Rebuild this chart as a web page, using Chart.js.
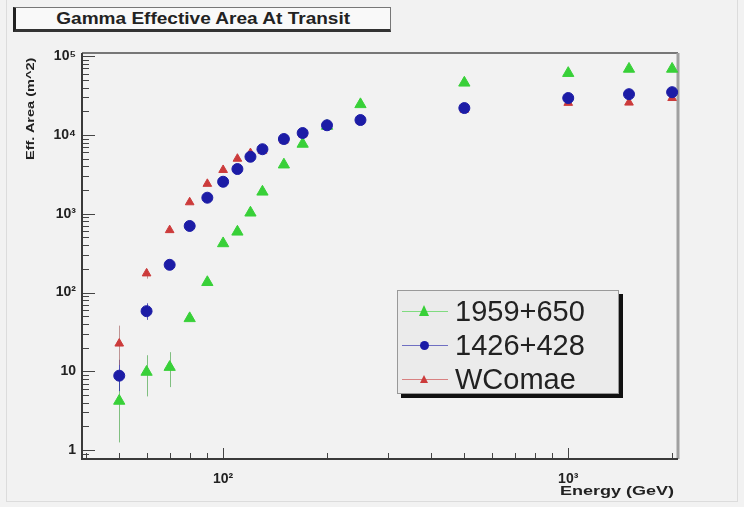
<!DOCTYPE html>
<html>
<head>
<meta charset="utf-8">
<script src="https://cdn.jsdelivr.net/npm/chart.js@4.4.1/dist/chart.umd.min.js"></script>
<style>
  html, body { margin: 0; padding: 0; background: #f2f2f2; }
  #wrap { position: relative; width: 744px; height: 507px; overflow: hidden; font-family: "Liberation Sans", Arial, sans-serif; }
  #pad { position: absolute; left: 6px; top: -2px; width: 732px; height: 504px; border: 1px solid #dcdcdc; box-sizing: border-box; }
  canvas { position: absolute; left: 0; top: 0; }
  #title { position: absolute; left: 13px; top: 7px; width: 378px; height: 25px; background: #f9f9f9;
           border: 1px solid #777; border-left: 3px solid #222; border-bottom: 3px solid #333; box-sizing: border-box;
           font-weight: bold; font-size: 17px; line-height: 21px; text-align: center; color: #222; }
  #title span { display: inline-block; transform: scaleX(1.12); }
  #legend { position: absolute; left: 397px; top: 290px; width: 222px; height: 104px; background: #ebebeb;
            border: 1px solid #999; box-shadow: 4px 4px 0 #111; box-sizing: border-box; }
  .row { position: absolute; left: 0; height: 36px; }
  .row .ln { position: absolute; left: 4px; top: 18px; width: 46px; height: 1px; }
  .row .mk { position: absolute; }
  .row .tx { position: absolute; left: 57px; top: 0; font-size: 29px; line-height: 36px; color: #222; white-space: nowrap; }
  #ytitle { position: absolute; left: 24px; top: 58px; font-weight: bold; font-size: 11px; color: #222; white-space: nowrap;
            transform-origin: 0 0; transform: translate(0, 102px) rotate(-90deg) scaleX(1.32); }
  #xtitle { position: absolute; left: 560px; top: 484px; font-weight: bold; font-size: 12px; color: #222; white-space: nowrap;
            transform-origin: 0 0; transform: scaleX(1.5); }
</style>
</head>
<body>
<div id="wrap">
  <div id="pad"></div>
  <canvas id="chart" width="744" height="507"></canvas>
  <div id="title"><span>Gamma Effective Area At Transit</span></div>
  <div id="legend"></div>
  <div id="ytitle">Eff. Area (m^2)</div>
  <div id="xtitle">Energy (GeV)</div>
</div>
<script>
// energie (GeV)
const energy = [50, 60, 70, 80, 90, 100, 110, 120, 130, 150, 170, 200, 250, 500, 1000, 1500, 2000];

const names = ['1959+650', '1426+428', 'WComae'];

// effective area (m^2) per source
const area1959 = [4.2, 9.8, 11.3, 47, 135, 420, 590, 1030, 1900, 4200, 7700, 13000, 24500, 46000, 61000, 69000, 69000];
const area1426 = [8.8, 58, 225, 700, 1600, 2550, 3700, 5300, 6600, 8900, 10600, 13300, 15500, 22000, 29500, 33000, 35000];
const areaWComae = [22.5, 175, 620, 1400, 2400, 3600, 5000, 5900, 6300, 8500, 10200, 12800, 15000, 21000, 25600, 25800, 29500];

// error bars [low, high], null = hidden under marker
const err1959 = [[1.25, 7.5], [4.8, 16], [6.3, 17.5], null, null, null, null, null, null, null, null, null, null, null, null, null, null];
const err1426 = [[5.6, 14], [45, 73], null, null, null, null, null, null, null, null, null, null, null, null, null, null, null];
const errWComae = [[12, 38], [150, 200], null, null, null, null, null, null, null, null, null, null, null, null, null, null, null];

const yTicksMajor = [1, 10, 100, 1000, 10000, 100000];
const xTicksMajor = [100, 1000];

const colGreen = '#38d038';
const colBlue = '#1c1ca6';
const colRed = '#cc3b3b';

function sup(n) {
    const s = {'0':'⁰','1':'¹','2':'²','3':'³','4':'⁴','5':'⁵','6':'⁶','7':'⁷','8':'⁸','9':'⁹'};
    return String(n).split('').map(c => s[c]).join('');
}

function logLabel(v) {
    const e = Math.round(Math.log10(v));
    if (Math.abs(Math.log10(v) - e) > 1e-6) return '';
    if (e === 0) return '1';
    if (e === 1) return '10';
    return '10' + sup(e);
}

function minorTicks(min, max) {
    const out = [];
    for (let e = Math.floor(Math.log10(min)); e <= Math.ceil(Math.log10(max)); e++) {
        for (let m = 1; m <= 9; m++) {
            const v = m * Math.pow(10, e);
            if (v >= min && v <= max) out.push(v);
        }
    }
    return out;
}

const errPlugin = {
    id: 'errbars',
    beforeDatasetsDraw(chart) {
        const ctx = chart.ctx;
        const xs = chart.scales.x, ys = chart.scales.y;
        const a = chart.chartArea;
        // ticks inside frame (ROOT style)
        ctx.save();
        ctx.strokeStyle = '#444';
        ctx.lineWidth = 1;
        minorTicks(ys.min, ys.max).forEach(v => {
            const y = Math.round(ys.getPixelForValue(v)) + 0.5;
            const big = yTicksMajor.includes(v);
            ctx.beginPath();
            ctx.moveTo(a.left, y);
            ctx.lineTo(a.left + (big ? 13 : 7), y);
            ctx.stroke();
        });
        minorTicks(xs.min, xs.max).forEach(v => {
            const x = Math.round(xs.getPixelForValue(v)) + 0.5;
            const big = xTicksMajor.includes(v);
            ctx.beginPath();
            ctx.moveTo(x, a.bottom);
            ctx.lineTo(x, a.bottom - (big ? 11 : 6));
            ctx.stroke();
        });
        // frame
        ctx.strokeStyle = '#777';
        ctx.lineWidth = 2;
        ctx.beginPath();
        ctx.moveTo(a.left, a.top);
        ctx.lineTo(a.right, a.top);
        ctx.stroke();
        ctx.strokeStyle = '#a0a0a0';
        ctx.lineWidth = 3;
        ctx.beginPath();
        ctx.moveTo(a.right, a.top);
        ctx.lineTo(a.right, a.bottom);
        ctx.stroke();
        ctx.strokeStyle = '#3a3a3a';
        ctx.lineWidth = 2;
        ctx.beginPath();
        ctx.moveTo(a.left, a.top);
        ctx.lineTo(a.left, a.bottom);
        ctx.lineTo(a.right, a.bottom);
        ctx.stroke();
        // error bars
        chart.data.datasets.forEach(ds => {
            ctx.strokeStyle = ds.errColor;
            ctx.lineWidth = 1;
            ds.errors.forEach((e, i) => {
                if (!e) return;
                const x = Math.round(xs.getPixelForValue(energy[i])) + 0.5;
                ctx.beginPath();
                ctx.moveTo(x, ys.getPixelForValue(e[0]));
                ctx.lineTo(x, ys.getPixelForValue(e[1]));
                ctx.stroke();
            });
        });
        ctx.restore();
    }
};

function pts(vals) {
    return vals.map((v, i) => ({ x: energy[i], y: v }));
}

const datasets = [
    { label: names[0], data: pts(area1959), errors: err1959, errColor: 'rgba(80,170,80,0.7)',
      pointStyle: 'triangle', pointRadius: 6.5, backgroundColor: colGreen, borderColor: colGreen, order: 1 },
    { label: names[1], data: pts(area1426), errors: err1426, errColor: 'rgba(40,40,170,0.8)',
      pointStyle: 'circle', pointRadius: 5.5, backgroundColor: colBlue, borderColor: colBlue, order: 0 },
    { label: names[2], data: pts(areaWComae), errors: errWComae, errColor: 'rgba(170,110,110,0.7)',
      pointStyle: 'triangle', pointRadius: 5, backgroundColor: colRed, borderColor: colRed, order: 2 }
];
datasets.forEach(d => { d.showLine = false; d.borderWidth = 1; d.clip = false; });

new Chart(document.getElementById('chart'), {
    type: 'scatter',
    data: { datasets: datasets },
    plugins: [errPlugin],
    options: {
        responsive: false,
        animation: false,
        events: [],
        layout: { padding: { left: 0, top: 53, right: 66, bottom: 18 } },
        plugins: { legend: { display: false }, tooltip: { enabled: false } },
        scales: {
            x: {
                type: 'logarithmic', min: 39, max: 2080,
                grid: { display: false, drawTicks: false }, border: { display: false },
                afterFit: s => { s.height = 30; },
                afterBuildTicks: s => { s.ticks = xTicksMajor.map(v => ({ value: v })); },
                ticks: { autoSkip: false, maxRotation: 0, padding: 12, color: '#222',
                         font: { family: 'Liberation Sans', size: 14, weight: 'bold' }, callback: v => logLabel(v) }
            },
            y: {
                type: 'logarithmic', min: 0.77, max: 110000,
                grid: { display: false, drawTicks: false }, border: { display: false },
                afterFit: s => { s.width = 82; },
                afterBuildTicks: s => { s.ticks = yTicksMajor.map(v => ({ value: v })); },
                ticks: { autoSkip: false, padding: 6, color: '#222',
                         font: { family: 'Liberation Sans', size: 14, weight: 'bold' }, callback: v => logLabel(v) }
            }
        }
    }
});

// legend box
const leg = document.getElementById('legend');
const legStyle = [
    { c: colGreen, shape: 'tri', s: 11 },
    { c: colBlue, shape: 'dot', s: 9 },
    { c: colRed, shape: 'tri', s: 8 }
];
names.forEach((n, i) => {
    const row = document.createElement('div');
    row.className = 'row';
    row.style.top = (2 + i * 34) + 'px';
    const st = legStyle[i];
    let mk;
    if (st.shape === 'dot') {
        mk = `<div class="mk" style="left:${26 - st.s / 2}px;top:${18 - st.s / 2}px;width:${st.s}px;height:${st.s}px;border-radius:50%;background:${st.c}"></div>`;
    } else {
        mk = `<div class="mk" style="left:${26 - st.s / 2}px;top:${18 - st.s * 0.55}px;width:0;height:0;border-left:${st.s / 2}px solid transparent;border-right:${st.s / 2}px solid transparent;border-bottom:${st.s}px solid ${st.c}"></div>`;
    }
    row.innerHTML = `<div class="ln" style="background:${st.c};opacity:0.6"></div>${mk}<div class="tx">${n}</div>`;
    leg.appendChild(row);
});
</script>
</body>
</html>
